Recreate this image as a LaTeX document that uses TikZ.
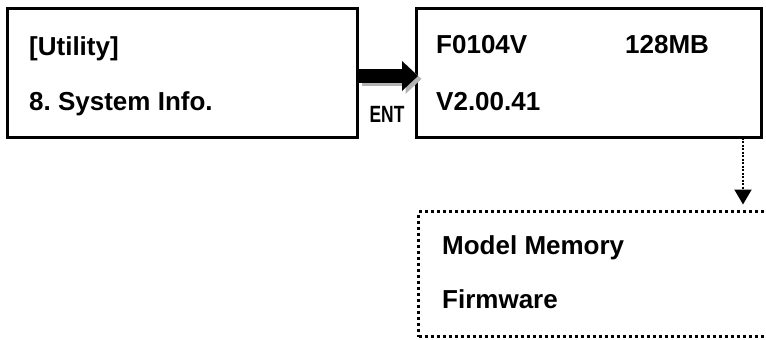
\documentclass[tikz,border=0pt]{standalone}
\usepackage{fontspec}
\setmainfont{Liberation Sans}
\usetikzlibrary{positioning, arrows.meta, calc}
\frenchspacing

\tikzset{
    screen/.style={draw, rectangle, line width=3pt, outer sep=0pt, inner sep=0pt, anchor=north west},
    dotscreen/.style={screen, dash pattern=on 3pt off 3pt},
    row/.style={font=\bfseries\fontsize{26}{30}\selectfont, anchor=base west, inner sep=0pt},
    keyname/.style={font=\bfseries\fontsize{23.5}{26}\selectfont, anchor=base, inner sep=0pt},
    fatarrow/.style={line width=14pt, -{Triangle[length=16pt, width=29pt]}},
    dotarrow/.style={line width=2pt, dash pattern=on 2pt off 1.5pt, -{Triangle[length=15pt, width=17pt]}, shorten >=7pt}
}

\begin{document}
\begin{tikzpicture}[x=1pt, y=-1pt]
    \useasboundingbox (0,0) rectangle (766,340);

    % screens
    \node[screen, minimum width=350pt, minimum height=129pt] (util) at (7.5,8.5) {};
    \node[screen, minimum width=345pt, minimum height=129pt] (info) at (416.5,8.5) {};
    \node[dotscreen, minimum width=380pt, minimum height=125pt] (detail) at (418.5,211.5) {};

    % screen text
    \node[row] (utilA) at ([xshift=21.5pt, yshift=-46.5pt]util.north west) {[Utility]};
    \node[row] (utilB) at ([xshift=21.5pt, yshift=-101.5pt]util.north west) {8. System Info.};
    \node[row] (infoA) at ([xshift=19.5pt, yshift=-44.5pt]info.north west) {F0104V};
    \node[row] (infoB) at ([xshift=208.5pt, yshift=-44.5pt]info.north west) {128MB};
    \node[row] (infoC) at ([xshift=19.5pt, yshift=-101.5pt]info.north west) {V2.00.41};
    \node[row] (detailA) at ([xshift=23.5pt, yshift=-42.5pt]detail.north west) {Model Memory};
    \node[row] (detailB) at ([xshift=23.5pt, yshift=-96.5pt]detail.north west) {Firmware};

    % ENT key
    \draw[fatarrow, draw=black!30] ([xshift=4pt, yshift=-6pt]util.east) -- ([xshift=5pt, yshift=-6pt]info.west);
    \draw[fatarrow] ([yshift=-3pt]util.east) -- ([xshift=1.5pt, yshift=-3pt]info.west);
    \node[keyname] (ent) at ([yshift=15.5pt]$(util.south east)!0.5!(info.south west)$) {\scalebox{0.74}[1]{ENT}};

    \draw[dotarrow] ([xshift=-18.5pt]info.south east) -- ([xshift=-18.5pt]info.south east |- detail.north);
\end{tikzpicture}
\end{document}
